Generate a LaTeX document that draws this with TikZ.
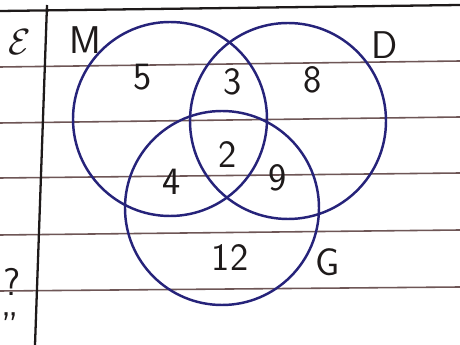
\documentclass[tikz,border=0pt]{standalone}
\usetikzlibrary{positioning}

\definecolor{ink}{HTML}{26237A}
\definecolor{pen}{HTML}{1E1A1A}
\definecolor{rule}{HTML}{6E5656}

\tikzset{
  venn/.style={draw=ink, line width=1.4pt, circle, inner sep=0pt},
  label/.style={font=\sffamily\fontsize{22}{26}\selectfont, text=pen, inner sep=1pt},
  ruled/.style={draw=rule, line width=0.9pt},
  margin/.style={draw=pen, line width=1.3pt}
}

\begin{document}
\begin{tikzpicture}
                \useasboundingbox (0,0) rectangle (9.2,6.9);
                \fill[white] (0,0) rectangle (9.2,6.9);

                % Ruled lines
                \foreach \yl/\yr in {5.56/5.68, 4.44/4.56, 3.34/3.44, 2.20/2.30, 1.08/1.16}
                    \draw[ruled] (0,\yl) -- (9.2,\yr);

                % Top line and margin
                \draw[margin] (0,6.68) -- (9.2,6.80);
                \draw[margin] (0.94,6.80) -- (0.70,0);

                % Circles
                \node (M) [venn, minimum size=3.88cm] at (3.40,4.52) {};
                \node (D) [venn, minimum size=3.92cm] at (5.76,4.48) {};
                \node (G) [venn, minimum size=3.88cm] at (4.44,2.74) {};

                % Set names
                \node (uni) [label] at (0.40,6.06) {$\mathcal{E}$};
                \node (nameM) [label] at (1.70,6.10) {M};
                \node (nameD) [label] at (7.70,6.00) {D};
                \node (nameG) [label] at (6.56,1.66) {G};

                % Region counts
                \node (onlyM) [label] at (2.86,5.36) {5};
                \node (MD) [label] at (4.66,5.26) {3};
                \node (onlyD) [label] at (6.26,5.30) {8};
                \node (MDG) [label] at (4.56,3.80) {2};
                \node (MG) [label] at (3.44,3.26) {4};
                \node (DG) [label] at (5.56,3.34) {9};
                \node (onlyG) [label] at (4.60,1.74) {12};

                % Margin marks
                \node (mark1) [label] at (0.24,1.26) {?};
                \node (mark2) [label, text height=1.6ex, text depth=0pt] at (0.20,0.24) {''};
            \end{tikzpicture}
\end{document}
